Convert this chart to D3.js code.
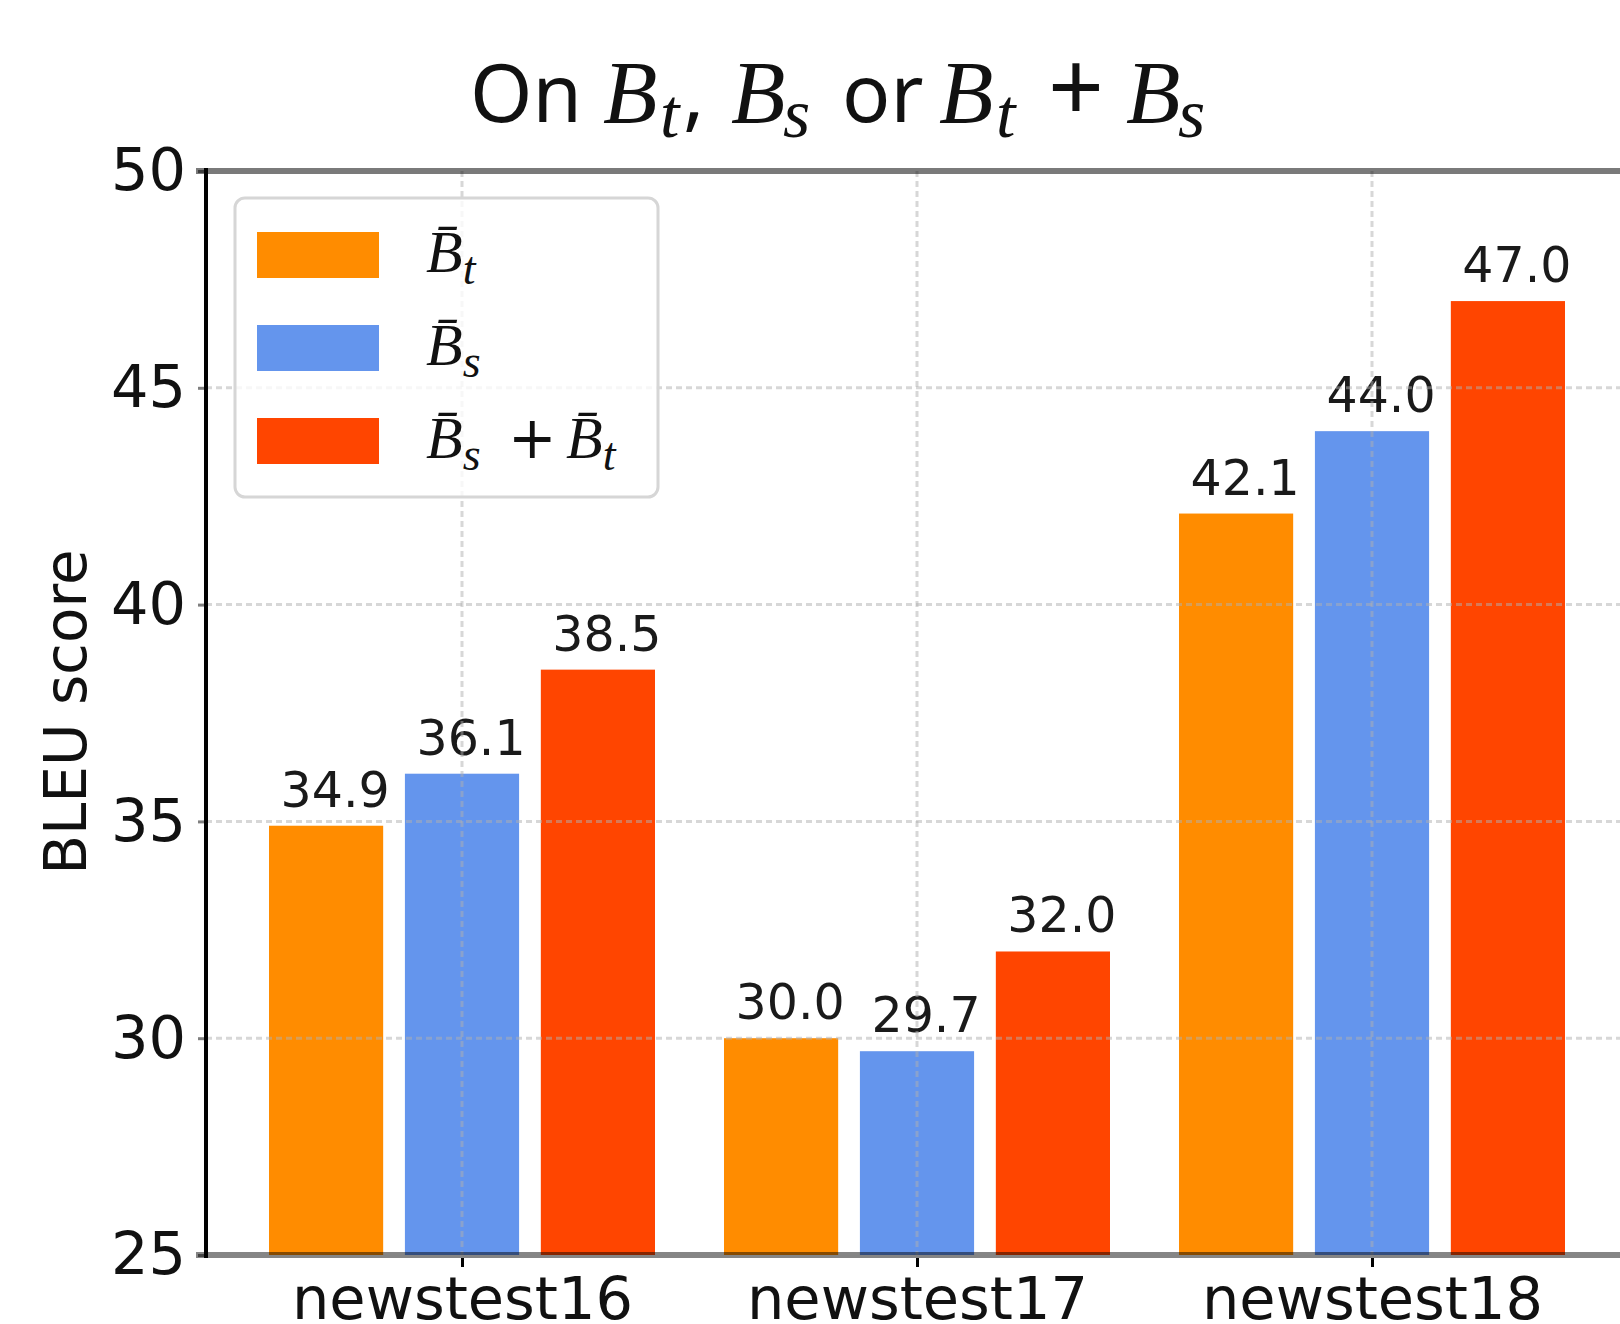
<!DOCTYPE html>
<html>
<head>
<meta charset="utf-8">
<script src="https://cdn.jsdelivr.net/npm/d3@7"></script>
<style>
  body { margin: 0; background: #fff; }
</style>
</head>
<body>
<div id="chart"></div>
<script>
// data
var categories = ["newstest16", "newstest17", "newstest18"];
var seriesKeys = ["bt", "bs", "both"];
var btScores = [34.9, 30.0, 42.1];
var bsScores = [36.1, 29.7, 44.0];
var bothScores = [38.5, 32.0, 47.0];
var yTicks = [25, 30, 35, 40, 45, 50];
var barColors = ["#ff8c00", "#6495ed", "#ff4500"];

var W = 1620, H = 1324;
var plotLeft = 206, plotRight = 1630, plotTop = 171, plotBottom = 1255;
var mathFont = "'Liberation Serif', 'DejaVu Serif', serif";

var svg = d3.select("#chart").append("svg")
  .attr("width", W)
  .attr("height", H)
  .style("font-family", "'DejaVu Sans', sans-serif");

var x = d3.scalePoint().domain(categories).range([462, 1372]);
var xSub = d3.scaleBand().domain(seriesKeys).range([-193, 193]).paddingInner(0.16);
var y = d3.scaleLinear().domain([25, 50]).range([plotBottom, plotTop]);
var color = d3.scaleOrdinal().domain(seriesKeys).range(barColors);

var rows = categories.map(function(c, i) {
  return {cat: c, values: [
    {key: "bt", v: btScores[i]},
    {key: "bs", v: bsScores[i]},
    {key: "both", v: bothScores[i]}
  ]};
});

// bars
var groups = svg.selectAll("g.group")
  .data(rows)
  .enter().append("g")
  .attr("class", "group")
  .attr("transform", function(d) { return "translate(" + x(d.cat) + ",0)"; });

groups.selectAll("rect")
  .data(function(d) { return d.values; })
  .enter().append("rect")
  .attr("x", function(d) { return xSub(d.key); })
  .attr("y", function(d) { return y(d.v); })
  .attr("width", xSub.bandwidth())
  .attr("height", function(d) { return y(25) - y(d.v); })
  .style("fill", function(d) { return color(d.key); });

groups.selectAll("text.val")
  .data(function(d) { return d.values; })
  .enter().append("text")
  .attr("class", "val")
  .attr("x", function(d) { return xSub(d.key) + xSub.bandwidth() / 2 + 9; })
  .attr("y", function(d) { return y(d.v) - 19; })
  .attr("text-anchor", "middle")
  .style("font-size", "49px")
  .style("fill", "#1a1a1a")
  .text(function(d) { return d.v.toFixed(1); });

// dashed grid, drawn over the bars like the original
var grid = svg.append("g")
  .style("stroke", "#b0b0b0")
  .style("stroke-opacity", 0.5)
  .style("stroke-width", 3)
  .style("stroke-dasharray", "6,4");
grid.selectAll("line.h")
  .data(yTicks.slice(1, -1))
  .enter().append("line")
  .attr("x1", plotLeft).attr("x2", plotRight)
  .attr("y1", function(d) { return y(d); })
  .attr("y2", function(d) { return y(d); });
grid.selectAll("line.v")
  .data(categories)
  .enter().append("line")
  .attr("x1", function(d) { return x(d); })
  .attr("x2", function(d) { return x(d); })
  .attr("y1", plotTop).attr("y2", plotBottom);

// helper for math-ish labels: segments [text, kind, optional x]
function mathText(sel, segs, size, mathSize, subSize, shift, opSize) {
  var cur = 0;
  segs.forEach(function(s) {
    var t = sel.append("tspan").text(s[0]);
    if (s[2] != null) t.attr("x", s[2]);
    var want = s[1] === "sub" ? shift : 0;
    if (want !== cur) { t.attr("dy", want - cur); cur = want; }
    if (s[1] === "sub" || s[1] === "math") {
      t.style("font-family", mathFont).style("font-style", "italic");
    }
    var fs = size;
    if (s[1] === "sub") fs = subSize;
    else if (s[1] === "math") fs = mathSize;
    else if (s[1] === "op") fs = opSize;
    t.style("font-size", fs + "px");
  });
}

// legend
var legendLabels = [
  [["B\u0304", "math"], ["t", "sub"]],
  [["B\u0304", "math"], ["s", "sub"]],
  [["B\u0304", "math"], ["s", "sub"], ["+", "op", 508], ["B\u0304", "math", 566], ["t", "sub"]]
];
var legend = svg.append("g");
legend.append("rect")
  .attr("x", 235).attr("y", 198)
  .attr("width", 423).attr("height", 299)
  .attr("rx", 10)
  .style("fill", "#fff")
  .style("fill-opacity", 0.8)
  .style("stroke", "#d6d6d6")
  .style("stroke-width", 3);
var li = legend.selectAll("g.item")
  .data(seriesKeys)
  .enter().append("g")
  .attr("class", "item")
  .attr("transform", function(d, i) { return "translate(0," + (232 + i * 93) + ")"; });
li.append("rect")
  .attr("x", 257).attr("width", 122).attr("height", 46)
  .style("fill", function(d) { return color(d); });
li.append("text")
  .attr("x", 426).attr("y", 40)
  .style("fill", "#111")
  .each(function(d, i) {
    mathText(d3.select(this), legendLabels[i], 58, 60, 46, 12, 58);
  });

// spines
svg.append("line")
  .attr("x1", plotLeft - 10).attr("x2", plotRight)
  .attr("y1", plotTop).attr("y2", plotTop)
  .style("stroke", "#000").style("stroke-opacity", 0.52).style("stroke-width", 6);
svg.append("line")
  .attr("x1", plotLeft - 10).attr("x2", plotRight)
  .attr("y1", plotBottom).attr("y2", plotBottom)
  .style("stroke", "#000").style("stroke-opacity", 0.48).style("stroke-width", 6);
svg.append("line")
  .attr("x1", plotLeft).attr("x2", plotLeft)
  .attr("y1", plotTop - 3).attr("y2", plotBottom + 3)
  .style("stroke", "#000").style("stroke-width", 4);

// axes
var yAxis = svg.append("g")
  .attr("transform", "translate(" + plotLeft + ",0)")
  .call(d3.axisLeft(y).tickValues(yTicks).tickSize(8).tickPadding(12));
yAxis.select(".domain").remove();
yAxis.selectAll("line").style("stroke", "#000").style("stroke-opacity", 0.5).style("stroke-width", 3);
yAxis.selectAll("text")
  .style("font-family", "'DejaVu Sans', sans-serif")
  .style("font-size", "59px")
  .style("fill", "#111");

var xAxis = svg.append("g")
  .attr("transform", "translate(0," + (plotBottom + 3) + ")")
  .call(d3.axisBottom(x).tickSize(9));
xAxis.select(".domain").remove();
xAxis.selectAll("line").style("stroke", "#000").style("stroke-width", 3);
xAxis.selectAll("text")
  .attr("y", 61).attr("dy", 0)
  .style("font-family", "'DejaVu Sans', sans-serif")
  .style("font-size", "59px")
  .style("fill", "#111");

// y label
svg.append("text")
  .attr("transform", "translate(86,712) rotate(-90)")
  .attr("text-anchor", "middle")
  .style("font-size", "58px")
  .style("fill", "#111")
  .text("BLEU score");

// title
var titleSegs = [
  ["On", "plain", 470], ["B", "math", 603], ["t", "sub", 660], [",", "plain", 683],
  ["B", "math", 731], ["s", "sub", 783], ["or", "plain", 842],
  ["B", "math", 939], ["t", "sub", 996], ["+", "op", 1048], ["B", "math", 1126], ["s", "sub", 1178]
];
var title = svg.append("text")
  .attr("y", 122)
  .style("font-family", "'Noto Sans', sans-serif")
  .style("fill", "#111");
mathText(title, titleSegs, 80, 89, 70, 15, 98);
</script>
</body>
</html>
